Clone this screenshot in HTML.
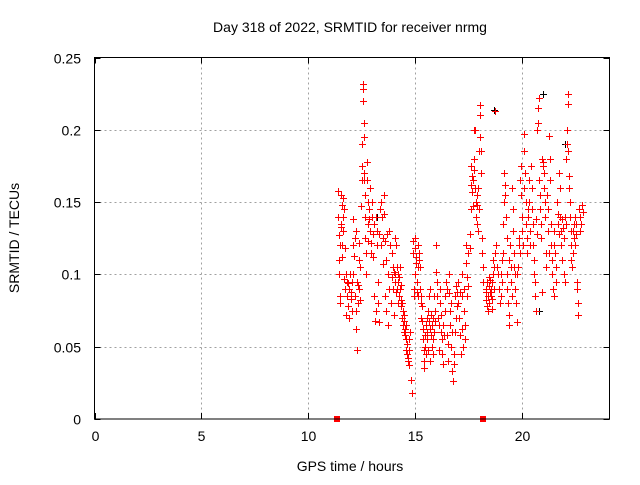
<!DOCTYPE html>
<html><head><meta charset="utf-8"><style>
body{margin:0;background:#fff;}
svg text{font-family:"Liberation Sans",sans-serif;font-size:14px;fill:#000;}
</style></head><body>
<svg id="chart" width="640" height="480" xmlns="http://www.w3.org/2000/svg">
<text x="350" y="32" text-anchor="middle">Day 318 of 2022, SRMTID for receiver nrmg</text>
<text x="350" y="471" text-anchor="middle">GPS time / hours</text>
<text transform="translate(19,238) rotate(-90)" text-anchor="middle">SRMTID / TECUs</text>
<g id="grid"></g>
<g id="ticks"></g>
<g id="black"></g>
<g id="red" shape-rendering="crispEdges"></g>
<rect x="94.5" y="57.5" width="515" height="361.5" fill="none" stroke="#000" stroke-width="1"/>
</svg>
<script>
const xTicks=[0,5,10,15,20];
const yTicks=[0,0.05,0.1,0.15,0.2,0.25];
const yTickLabels=["0","0.05","0.1","0.15","0.2","0.25"];
const zeroMarks=[11.35,18.2];
const blackPts=[[12.45,0.147],[13.2,0.14],[18.7,0.214],[21.0,0.225],[20.8,0.075],[22.0,0.19]];
const redPts=[
[11.38,0.158],[11.4,0.14],[11.42,0.11],[11.44,0.127],[11.45,0.1],[11.47,0.085],[11.48,0.08],[11.5,0.12],[11.52,0.155],[11.53,0.133],[11.55,0.135],[11.57,0.148],[11.58,0.12],[11.6,0.112],[11.62,0.153],[11.63,0.14],[11.65,0.13],[11.67,0.097],[11.68,0.145],[11.7,0.118],
[11.72,0.09],[11.75,0.1],[11.78,0.072],[11.8,0.095],[11.82,0.085],[11.85,0.078],[11.88,0.094],[11.9,0.07],[11.92,0.09],[11.95,0.1],[11.98,0.088],[12.0,0.083],[12.03,0.075],[12.05,0.095],[12.08,0.138],[12.1,0.12],[12.12,0.1],[12.15,0.113],[12.18,0.125],[12.2,0.085],[12.22,0.075],[12.24,0.13],[12.26,0.062],[12.28,0.095],[12.3,0.048],[12.32,0.08],[12.34,0.093],[12.36,0.11],[12.38,0.09],[12.4,0.122],[12.42,0.105],[12.44,0.082],
[12.48,0.147],[12.5,0.165],[12.52,0.175],[12.54,0.19],[12.56,0.232],[12.57,0.228],[12.58,0.22],[12.59,0.205],[12.6,0.195],[12.62,0.17],[12.63,0.165],[12.64,0.155],[12.66,0.14],[12.68,0.125],[12.7,0.115],[12.72,0.1],[12.74,0.178],[12.76,0.165],[12.78,0.15],[12.8,0.135],[12.82,0.123],[12.84,0.145],[12.86,0.138],[12.88,0.13],[12.9,0.16],[12.92,0.122],[12.95,0.115],[12.98,0.15],[13.0,0.14],
[13.02,0.128],[13.05,0.112],[13.08,0.135],[13.1,0.085],[13.12,0.068],[13.15,0.075],[13.18,0.14],[13.2,0.13],[13.22,0.12],[13.25,0.095],[13.28,0.08],[13.3,0.067],[13.33,0.128],[13.36,0.145],[13.4,0.15],[13.42,0.12],[13.45,0.14],[13.48,0.125],[13.5,0.107],[13.53,0.155],[13.55,0.142],[13.58,0.123],[13.6,0.085],[13.63,0.075],[13.66,0.11],[13.7,0.128],[13.72,0.065],[13.75,0.1],[13.78,0.13],[13.8,0.09],[13.83,0.12],[13.86,0.08],[13.9,0.115],[13.92,0.098],[13.95,0.105],[13.98,0.09],
[14.0,0.072],[14.02,0.102],[14.04,0.095],[14.06,0.125],[14.08,0.1],[14.1,0.088],[14.12,0.12],[14.14,0.105],[14.16,0.09],[14.18,0.08],[14.2,0.1],[14.22,0.095],[14.24,0.085],[14.26,0.098],[14.28,0.09],[14.3,0.105],[14.32,0.082],[14.34,0.093],[14.36,0.078],[14.38,0.07],
[14.4,0.08],[14.42,0.065],[14.44,0.075],[14.46,0.072],[14.48,0.06],[14.5,0.068],[14.52,0.062],[14.54,0.058],[14.56,0.055],[14.58,0.065],[14.6,0.048],[14.62,0.052],[14.64,0.045],[14.66,0.04],[14.68,0.042],[14.7,0.037],[14.72,0.055],[14.74,0.048],[14.76,0.06],[14.8,0.027],[14.84,0.018],
[14.9,0.115],[14.92,0.123],[14.94,0.09],[14.96,0.085],[14.98,0.1],[15.0,0.118],[15.02,0.125],[15.04,0.108],[15.06,0.112],[15.08,0.088],[15.1,0.095],[15.12,0.105],[15.14,0.085],[15.16,0.12],[15.18,0.115],[15.2,0.11],[15.22,0.105],[15.24,0.09],[15.26,0.085],[15.28,0.08],
[15.3,0.07],[15.32,0.078],[15.34,0.068],[15.36,0.062],[15.38,0.055],[15.4,0.048],[15.42,0.04],[15.44,0.035],[15.46,0.058],[15.48,0.05],[15.5,0.065],[15.52,0.045],[15.54,0.07],[15.56,0.06],[15.58,0.055],[15.6,0.048],[15.62,0.075],[15.64,0.068],[15.66,0.085],[15.68,0.062],[15.7,0.04],[15.72,0.09],[15.74,0.072],[15.76,0.058],[15.78,0.065],[15.8,0.05],[15.82,0.07],[15.84,0.055],[15.86,0.045],[15.88,0.06],
[15.9,0.085],[15.92,0.075],[15.95,0.068],[15.98,0.102],[16.0,0.12],[16.02,0.095],[16.05,0.085],[16.08,0.07],[16.1,0.065],[16.12,0.048],[16.15,0.08],[16.18,0.09],[16.2,0.072],[16.22,0.06],[16.25,0.055],[16.28,0.045],[16.3,0.038],[16.32,0.065],[16.35,0.058],
[16.4,0.085],[16.42,0.075],[16.45,0.095],[16.48,0.058],[16.5,0.09],[16.52,0.052],[16.55,0.04],[16.58,0.1],[16.6,0.087],[16.62,0.065],[16.65,0.075],[16.68,0.05],[16.7,0.08],[16.72,0.06],[16.75,0.033],[16.78,0.026],[16.8,0.045],[16.82,0.038],[16.85,0.06],[16.88,0.085],[16.9,0.07],[16.92,0.092],[16.95,0.078],[16.98,0.088],
[17.0,0.08],[17.03,0.095],[17.06,0.07],[17.1,0.088],[17.12,0.058],[17.15,0.045],[17.18,0.1],[17.2,0.085],[17.22,0.062],[17.25,0.05],[17.28,0.075],[17.3,0.09],[17.32,0.055],[17.35,0.065],[17.38,0.12],[17.4,0.108],[17.42,0.098],[17.45,0.085],[17.48,0.092],[17.5,0.115],
[17.55,0.128],[17.58,0.118],[17.6,0.145],[17.62,0.162],[17.64,0.175],[17.66,0.168],[17.68,0.157],[17.7,0.147],[17.72,0.165],[17.74,0.172],[17.76,0.18],[17.78,0.2],[17.8,0.2],[17.82,0.16],[17.84,0.15],[17.86,0.14],[17.88,0.135],[17.9,0.155],[17.92,0.148],[17.94,0.16],[17.96,0.13],[17.98,0.145],[18.0,0.185],[18.02,0.21],[18.04,0.217],[18.06,0.195],[18.08,0.185],[18.1,0.17],[18.12,0.125],[18.14,0.115],[18.16,0.105],[18.18,0.095],
[18.3,0.088],[18.32,0.082],[18.34,0.09],[18.36,0.078],[18.38,0.095],[18.4,0.085],[18.42,0.075],[18.44,0.092],[18.46,0.098],[18.48,0.08],[18.5,0.088],[18.52,0.096],[18.54,0.085],[18.56,0.09],[18.58,0.083],[18.6,0.076],[18.62,0.095],[18.64,0.1],[18.66,0.11],[18.68,0.105],[18.7,0.09],[18.72,0.213],[18.75,0.115],[18.8,0.12],[18.85,0.105],[18.9,0.1],
[18.95,0.09],[18.98,0.08],[19.0,0.1],[19.02,0.085],[19.05,0.11],[19.08,0.095],[19.1,0.115],[19.12,0.135],[19.15,0.15],[19.18,0.17],[19.2,0.162],[19.22,0.155],[19.25,0.14],[19.28,0.125],[19.3,0.1],[19.32,0.09],[19.35,0.08],[19.38,0.072],[19.4,0.065],[19.42,0.11],[19.45,0.12],[19.48,0.105],[19.5,0.095],[19.52,0.085],[19.55,0.16],[19.58,0.145],[19.6,0.13],[19.62,0.115],[19.65,0.105],[19.68,0.1],[19.7,0.09],[19.72,0.08],[19.75,0.067],[19.78,0.1],[19.8,0.105],
[19.85,0.125],[19.88,0.12],[19.9,0.115],[19.92,0.165],[19.95,0.175],[19.98,0.155],[20.0,0.14],[20.02,0.13],[20.05,0.12],[20.08,0.16],[20.1,0.197],[20.12,0.185],[20.15,0.17],[20.18,0.15],[20.2,0.135],[20.22,0.125],[20.25,0.115],[20.28,0.145],[20.3,0.14],[20.33,0.165],[20.35,0.15],[20.38,0.13],[20.4,0.12],[20.43,0.175],[20.45,0.16],[20.48,0.145],[20.5,0.135],[20.52,0.12],[20.55,0.11],[20.58,0.1],[20.6,0.095],[20.62,0.085],[20.65,0.075],[20.68,0.138],[20.7,0.128],
[20.72,0.2],[20.74,0.205],[20.76,0.215],[20.78,0.222],[20.8,0.222],[20.82,0.165],[20.84,0.155],[20.86,0.145],[20.88,0.135],[20.9,0.125],[20.92,0.088],[20.95,0.18],[20.98,0.178],[21.0,0.175],[21.02,0.17],[21.05,0.16],[21.08,0.15],[21.1,0.14],[21.12,0.115],[21.15,0.105],[21.18,0.155],[21.2,0.145],[21.22,0.13],[21.25,0.115],[21.28,0.196],[21.3,0.18],[21.32,0.165],[21.35,0.135],[21.38,0.12],[21.4,0.11],[21.42,0.1],[21.45,0.09],[21.48,0.085],[21.5,0.13],[21.52,0.12],[21.55,0.115],[21.58,0.105],[21.6,0.095],
[21.65,0.15],[21.68,0.142],[21.7,0.135],[21.72,0.128],[21.75,0.17],[21.78,0.16],[21.8,0.14],[21.82,0.13],[21.85,0.12],[21.88,0.11],[21.9,0.138],[21.92,0.132],[21.95,0.125],[21.98,0.1],[22.0,0.095],[22.02,0.14],[22.05,0.135],[22.08,0.18],[22.1,0.19],[22.12,0.2],[22.14,0.218],[22.16,0.225],[22.18,0.185],[22.2,0.168],[22.22,0.16],[22.24,0.15],[22.26,0.14],[22.28,0.13],[22.3,0.12],[22.32,0.11],[22.35,0.105],[22.38,0.115],[22.4,0.13],[22.42,0.135],[22.45,0.125],[22.48,0.12],[22.5,0.14],[22.52,0.135],[22.55,0.128],[22.58,0.095],[22.6,0.09],[22.62,0.08],[22.64,0.072],[22.66,0.145],[22.7,0.14],[22.74,0.13],[22.78,0.135],[22.82,0.148],[22.85,0.143]
];
</script>
<script>
const NS="http://www.w3.org/2000/svg";
const X0=94.5,X1=609.5,Y0=419,Y1=57.5,XMAX=24.1,YMAX=0.25;
const sx=t=>X0+(X1-X0)*t/XMAX;
const sy=v=>Y0-(Y0-Y1)*v/YMAX;
const grid=document.getElementById('grid'),ticks=document.getElementById('ticks');
function ln(g,x1,y1,x2,y2,st,dash){const l=document.createElementNS(NS,'line');l.setAttribute('x1',x1);l.setAttribute('y1',y1);l.setAttribute('x2',x2);l.setAttribute('y2',y2);l.setAttribute('stroke',st);if(dash)l.setAttribute('stroke-dasharray',dash);g.appendChild(l);return l;}
function tx(g,x,y,s,anchor){const t=document.createElementNS(NS,'text');t.setAttribute('x',x);t.setAttribute('y',y);t.setAttribute('text-anchor',anchor);t.textContent=s;g.appendChild(t);return t;}
xTicks.forEach(v=>{const x=Math.round(sx(v))+0.5;
 if(v>0){const l=ln(grid,x,Y1,x,Y0,'#a0a0a0','2,3');}
 const a=ln(ticks,x,Y0,x,Y0-6,'#000');
 const b=ln(ticks,x,Y1,x,Y1+6,'#000');
 const t=tx(ticks,x,441,String(v),'middle');});
yTicks.forEach((v,i)=>{const y=Math.round(sy(v))+0.5;
 if(v>0&&v<0.25){const l=ln(grid,X0,y,X1,y,'#a0a0a0','2,3');}
 const a=ln(ticks,X0,y,X0+6,y,'#000');
 const b=ln(ticks,X1,y,X1-6,y,'#000');
 const t=tx(ticks,81,y+5,yTickLabels[i],'end');});
function plus(g,t,v,col,name){const p=document.createElementNS(NS,'path');const x=Math.round(sx(t))+0.5,y=Math.round(sy(v))+0.5;
 p.setAttribute('d',`M${x-3.5},${y}H${x+3.5}M${x},${y-3.5}V${y+3.5}`);p.setAttribute('stroke',col);p.setAttribute('fill','none');
 
 
 g.appendChild(p);}
const bg=document.getElementById('black'),rg=document.getElementById('red');
blackPts.forEach(d=>plus(bg,d[0],d[1],'#000','black-point'));
redPts.forEach(d=>plus(rg,d[0],d[1],'#f00','red-point'));
zeroMarks.forEach(t=>{const r=document.createElementNS(NS,'rect');r.setAttribute('x',Math.round(sx(t))-3);r.setAttribute('y',Y0-3);r.setAttribute('width',6);r.setAttribute('height',6);r.setAttribute('fill','#f00');
 
 
 rg.appendChild(r);});
</script>
</body></html>
